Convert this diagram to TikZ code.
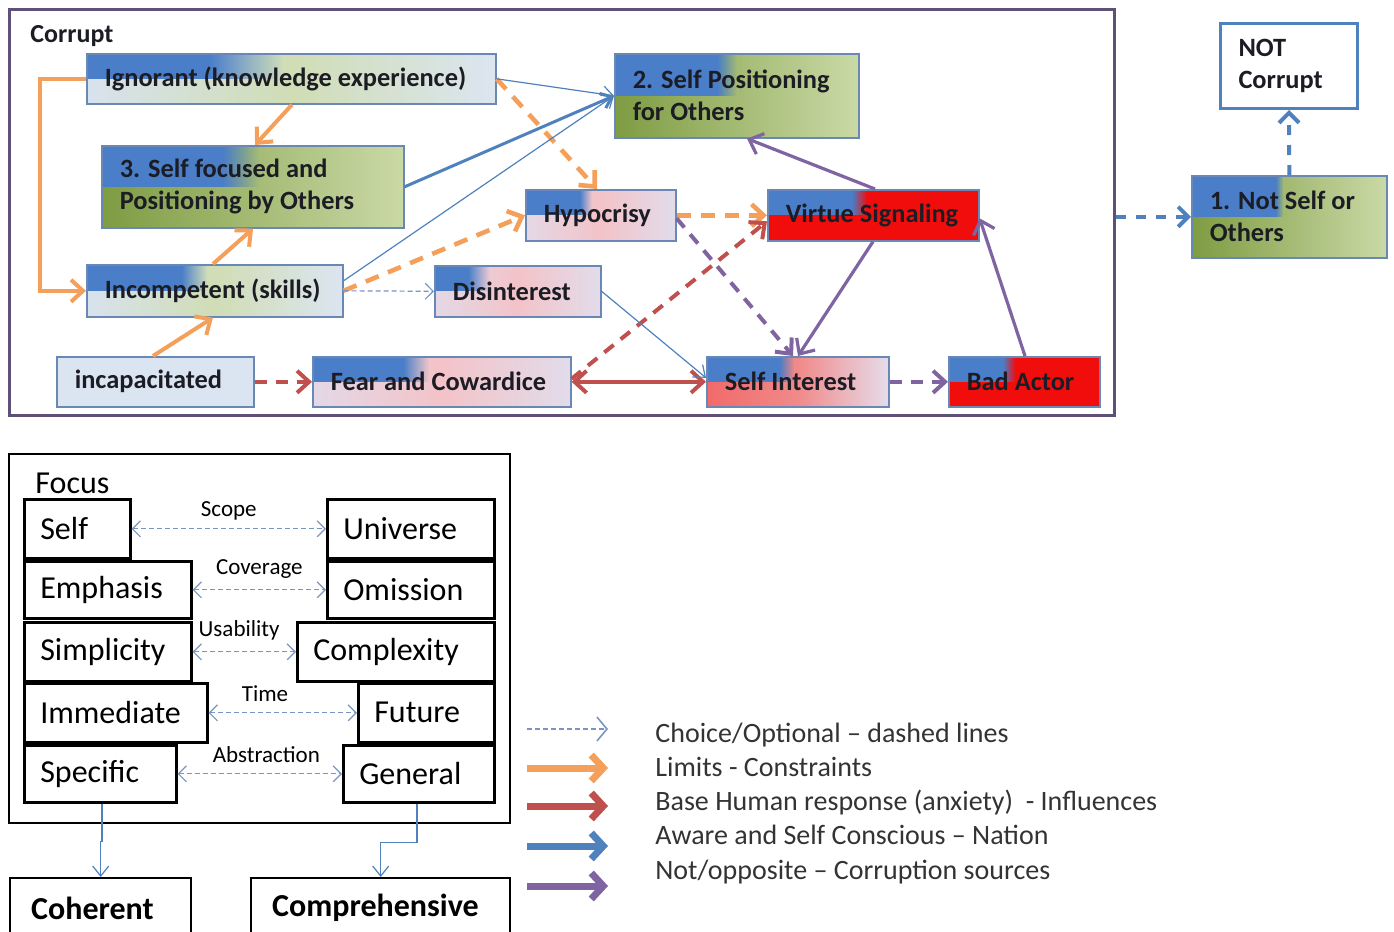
\documentclass[tikz,border=0pt]{standalone}
\usepackage{fontspec}
\setmainfont{Carlito}
\usetikzlibrary{arrows.meta,calc,fadings}

\definecolor{framecol}{HTML}{5F5078}
\definecolor{boxline}{HTML}{6A88B4}
\definecolor{textcol}{HTML}{1C1C24}
\definecolor{cornerblue}{HTML}{4A7EC8}
\definecolor{plaincol}{HTML}{DBE5F1}
\definecolor{lightA}{HTML}{D8E2EE}
\definecolor{lightB}{HTML}{D0DDB5}
\definecolor{lightC}{HTML}{DCE5F1}
\definecolor{greenA}{HTML}{7E9C42}
\definecolor{greenB}{HTML}{CAD9A6}
\definecolor{pinkA}{HTML}{E4D8E6}
\definecolor{pinkB}{HTML}{F3C3C8}
\definecolor{pinkC}{HTML}{E2DCEA}
\definecolor{hotA}{HTML}{F26A6A}
\definecolor{hotB}{HTML}{F08A8A}
\definecolor{hotC}{HTML}{E6DCEA}
\definecolor{redcol}{HTML}{F20D0D}
\definecolor{limcol}{HTML}{F5A05A}
\definecolor{basecol}{HTML}{C0504D}
\definecolor{awarecol}{HTML}{4F81BD}
\definecolor{notcol}{HTML}{8064A2}
\definecolor{choicecol}{HTML}{7896C0}
\definecolor{legendcol}{HTML}{333333}

\tikzfading[name=fadeeast, left color=transparent!0, right color=transparent!100]

\tikzset{
  topbox/.style={draw=boxline, line width=0.8pt, anchor=north west, inner xsep=9pt, inner ysep=0pt,
    align=flush left, text=textcol, font=\fontsize{13.2}{16}\selectfont\bfseries},
  focuscell/.style={draw=black, line width=1.3pt, anchor=north west, inner xsep=8pt, inner ysep=0pt,
    align=flush left, font=\fontsize{16}{19}\selectfont},
  endbox/.style={draw=black, line width=1.2pt, anchor=north west, inner xsep=10.5pt, inner ysep=0pt,
    align=flush left, minimum height=30pt, font=\fontsize{16}{19}\selectfont\bfseries},
  flabel/.style={inner sep=0pt, font=\fontsize{11.5}{13}\selectfont},
  legendtext/.style={anchor=base west, inner sep=0pt, text=legendcol, font=\fontsize{14}{16}\selectfont},
  % fills
  lightshade/.style={left color=lightA, right color=lightC, middle color=lightB},
  greenshade/.style={left color=greenA, right color=greenB},
  pinkshade/.style={left color=pinkA, right color=pinkC, middle color=pinkB},
  hotshade/.style={left color=hotA, right color=hotC, middle color=hotB},
  redfill/.style={fill=redcol},
  bluecorner/.style 2 args={path picture={
    \fill[cornerblue] (path picture bounding box.north west) rectangle
      ($(path picture bounding box.west)!#1!(path picture bounding box.east)$);
    \fill[cornerblue, path fading=fadeeast]
      ($(path picture bounding box.north west)!#1!(path picture bounding box.north east)$) rectangle
      ($(path picture bounding box.west)!#2!(path picture bounding box.east)$);
  }},
  % connectors
  limarrow/.style={-{Straight Barb[length=6pt,width=11pt]}, draw=limcol, line width=2pt},
  limdash/.style={limarrow, line width=2.3pt, dash pattern=on 7pt off 5pt},
  basearrow/.style={-{Straight Barb[length=6pt,width=11pt]}, draw=basecol, line width=2pt},
  basedash/.style={basearrow, dash pattern=on 6pt off 4.5pt},
  awarethin/.style={-{Straight Barb[length=5pt,width=8pt]}, draw=awarecol, line width=0.6pt},
  awarearrow/.style={awarethin, line width=1.5pt},
  notarrow/.style={-{Straight Barb[length=6pt,width=11pt]}, draw=notcol, line width=1.6pt},
  notdash/.style={notarrow, line width=2pt, dash pattern=on 6pt off 4.5pt},
  nationdash/.style={-{Straight Barb[length=5pt,width=10pt]}, draw=awarecol, line width=2pt, dash pattern=on 5pt off 5pt},
  choice/.style={-{Straight Barb[length=4pt,width=8pt]}, draw=choicecol, line width=0.6pt, dash pattern=on 2.5pt off 1.5pt},
  choiceboth/.style={choice, <->, >={Straight Barb[length=4pt,width=8pt]}},
  legendarrow/.style={-{Straight Barb[length=6pt,width=13pt]}, line width=3.5pt},
}

\begin{document}
\hyphenpenalty=10000
\begin{tikzpicture}[x=0.5pt,y=-0.5pt]
\useasboundingbox (0,0) rectangle (1394,932);

% corrupt part
\node[draw=framecol, line width=1.5pt, anchor=north west, minimum width=552.5pt, minimum height=203pt, inner sep=0pt] (corrupt) at (8,8) {};
\node[anchor=base west, inner sep=0pt, text=textcol, font=\fontsize{13}{16}\selectfont\bfseries] (corruptlbl) at (30,42) {Corrupt};

\node[topbox, lightshade, bluecorner={0.30}{0.48}, text width=186.5pt, minimum height=25pt] (ign)   at (86,53)  {Ignorant (knowledge experience)};
\node[topbox, greenshade, bluecorner={0.40}{0.52}, text width=133pt,   minimum height=41pt] (sfo)   at (101,145) {3. Self focused and\\Positioning by Others};
\node[topbox, lightshade, bluecorner={0.37}{0.47}, text width=110pt,   minimum height=26pt] (inc)   at (86,264) {Incompetent (skills)};
\node[topbox, fill=plaincol,                     text width=80.5pt,  minimum height=25pt] (incap) at (56,356) {incapacitated};
\node[topbox, pinkshade, bluecorner={0.35}{0.45}, text width=111pt,   minimum height=25pt] (fear)  at (312,356) {Fear and Cowardice};
\node[topbox, pinkshade, bluecorner={0.20}{0.33}, text width=65pt,    minimum height=25.5pt] (dis) at (434,265) {Disinterest};
\node[topbox, pinkshade, bluecorner={0.36}{0.44}, text width=57pt,    minimum height=25.5pt] (hyp) at (525,189) {Hypocrisy};
\node[topbox, greenshade, bluecorner={0.42}{0.50}, text width=104pt,   minimum height=42pt] (spo)   at (614,53) {2. Self Positioning\\for Others};
\node[topbox, redfill, bluecorner={0.40}{0.47},   text width=87.5pt,  minimum height=25.5pt] (vir) at (767,189) {Virtue Signaling};
\node[topbox, hotshade, bluecorner={0.40}{0.48},  text width=73pt,    minimum height=25pt] (sint)  at (706,356) {Self Interest};
\node[topbox, redfill, bluecorner={0.36}{0.44},   text width=57.5pt,  minimum height=25pt] (bad)   at (948,356) {Bad Actor};

% not corrupt part
\node[topbox, draw=awarecol, line width=1.5pt, fill=white, text width=50.5pt, minimum height=42.5pt] (notc) at (1219,22) {NOT\\Corrupt};
\node[topbox, greenshade, bluecorner={0.43}{0.47}, text width=79.5pt, minimum height=41pt] (nso) at (1191,175) {1. Not Self or\\Others};

% limits
\draw[limarrow] (ign.west) -- ++(-23pt,0) |- (inc.west);
\draw[limarrow] ([xshift=103pt]ign.south west) -- ([xshift=77pt]sfo.north west);
\draw[limarrow] ([xshift=63.5pt]inc.north west) -- ([xshift=76pt]sfo.south west);
\draw[limarrow] ([xshift=48.5pt]incap.north west) -- ([xshift=63.5pt]inc.south west);
\draw[limdash] (inc.east) -- (hyp.west);
\draw[limdash] (ign.east) -- ([xshift=36pt]hyp.north west);
\draw[limdash] (hyp.east) -- (vir.west);

% base human response
\draw[basedash] (incap.east) -- (fear.west);
\draw[basearrow, <->, >={Straight Barb[length=6pt,width=11pt]}] (fear.east) -- (sint.west);
\draw[basedash] ([yshift=1.5pt]fear.east) -- ([yshift=-3pt]vir.west);

% aware
\draw[awarethin] (ign.east) -- (spo.west);
\draw[awarearrow] (sfo.east) -- (spo.west);
\draw[awarethin] ([yshift=5pt]inc.east) -- (spo.west);
\draw[awarethin] (dis.east) -- ([yshift=2pt]sint.west);
\draw[choice] (inc.east) -- (dis.west);

% not / opposite
\draw[notarrow] ([xshift=54pt]vir.north west) -- ([xshift=66.5pt]spo.south west);
\draw[notarrow] ([xshift=53pt]vir.south west) -- ([xshift=46pt]sint.north west);
\draw[notdash] ([yshift=-1.5pt]hyp.east) -- ([xshift=43.5pt]sint.north west);
\draw[notdash] (sint.east) -- (bad.west);
\draw[notarrow] ([xshift=38.5pt]bad.north west) -- ([yshift=-1.5pt]vir.east);

\draw[nationdash] (corrupt.east |- nso.west) -- (nso.west);
\draw[nationdash] (nso.north) -- (notc.south);

% focus part
\node[draw=black, line width=1pt, anchor=north west, minimum width=250.5pt, minimum height=184.5pt, inner sep=0pt] (focus) at (8,453) {};
\node[anchor=base west, inner sep=0pt, font=\fontsize{16}{19}\selectfont] (focuslbl) at (35,493) {Focus};

\node[focuscell, text width=37pt,   minimum height=29.5pt] (self) at (23,498)  {Self};
\node[focuscell, text width=67.5pt, minimum height=29.5pt] (univ) at (326,498) {Universe};
\node[focuscell, text width=67.5pt, minimum height=28.5pt] (emph) at (23,560)  {Emphasis};
\node[focuscell, text width=67.5pt, minimum height=28.5pt] (omis) at (326,560) {Omission};
\node[focuscell, text width=67.5pt, minimum height=29.5pt] (simp) at (23,621)  {Simplicity};
\node[focuscell, text width=82.5pt, minimum height=29.5pt] (cplx) at (296,621) {Complexity};
\node[focuscell, text width=75.5pt, minimum height=29.5pt] (imm)  at (23,682)  {Immediate};
\node[focuscell, text width=52pt,   minimum height=29.5pt] (fut)  at (357,682) {Future};
\node[focuscell, text width=60pt,   minimum height=28.5pt] (spec) at (23,744)  {Specific};
\node[focuscell, text width=59.5pt, minimum height=28.5pt] (gen)  at (342,744) {General};

\draw[choiceboth] (self) -- node[flabel, above=4pt] {Scope} (univ);
\draw[choiceboth] (emph) -- node[flabel, above=5.5pt] {Coverage} (omis);
\draw[choiceboth] (simp) -- node[flabel, above=5.5pt, pos=0.45] {Usability} (cplx);
\draw[choiceboth] (imm) -- node[flabel, above=5.5pt, pos=0.38] {Time} (fut);
\draw[choiceboth] (spec) -- node[flabel, above=5.5pt, pos=0.54] {Abstraction} (gen);

\node[endbox, text width=69.5pt]  (coh)  at (9,877)   {Coherent};
\node[endbox, text width=108.5pt] (comp) at (250,877) {Comprehensive};

\draw[awarethin] ([xshift=39.5pt]spec.south west) -- ++(0,-19pt) -| (coh.north);
\draw[awarethin] ([xshift=37.5pt]gen.south west) -- ++(0,-19.5pt) -| (comp.north);

% legend
\coordinate (key1) at (527,729);
\coordinate (key2) at (527,768);
\coordinate (key3) at (527,806);
\coordinate (key4) at (527,846);
\coordinate (key5) at (527,886);
\draw[choice, line width=0.8pt, -{Straight Barb[length=5pt,width=12pt]}] (key1) -- ++(40.5pt,0);
\draw[legendarrow, draw=limcol]   (key2) -- ++(40.5pt,0);
\draw[legendarrow, draw=basecol]  (key3) -- ++(40.5pt,0);
\draw[legendarrow, draw=awarecol] (key4) -- ++(40.5pt,0);
\draw[legendarrow, draw=notcol]   (key5) -- ++(40.5pt,0);

\node[legendtext] (leg1) at (655,742) {Choice/Optional – dashed lines};
\node[legendtext] (leg2) at (655,776) {Limits - Constraints};
\node[legendtext] (leg3) at (655,810) {Base Human response (anxiety)\ \ - Influences};
\node[legendtext] (leg4) at (655,844) {Aware and Self Conscious – Nation};
\node[legendtext] (leg5) at (655,879) {Not/opposite – Corruption sources};
\end{tikzpicture}
\end{document}
